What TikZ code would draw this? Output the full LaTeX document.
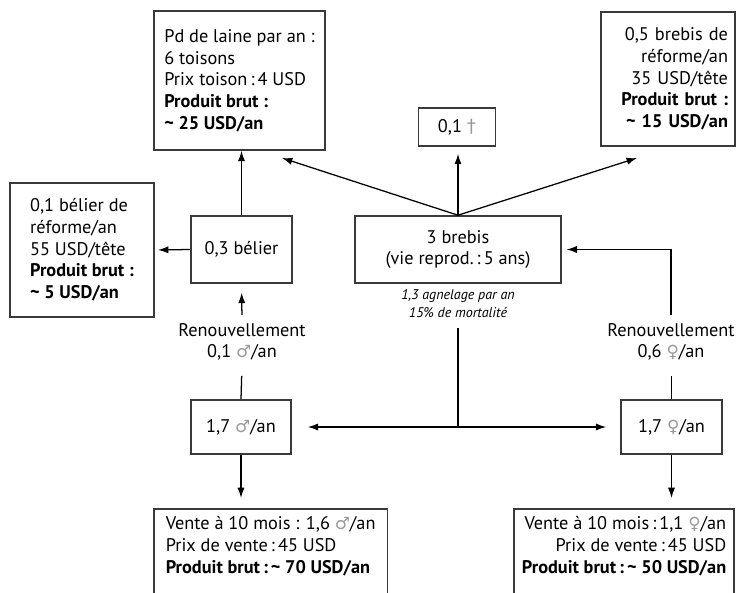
\documentclass[tikz,border=0pt]{standalone}
\usepackage{fontspec}
\setmainfont{PT Sans}
\newfontfamily\symfont{DejaVu Sans}
\usepackage{xcolor}
\usepackage{tikz}
\usetikzlibrary{arrows.meta}
\definecolor{oedge}{HTML}{3A3A3A}
\definecolor{osym}{HTML}{999999}
\newcommand{\ofont}{\fontsize{13}{15.4}\selectfont}
\newcommand{\onote}{\fontsize{10}{12.8}\selectfont\itshape}
\newcommand{\sexm}{{\symfont\fontsize{12}{12}\selectfont\color{osym}♂}}
\newcommand{\sexf}{{\symfont\fontsize{12}{12}\selectfont\color{osym}♀}}
\newcommand{\croix}{{\symfont\color{osym}†}}
\tikzset{
  >={Latex[length=2.6mm,width=1.8mm]},
  ovbox/.style={draw=oedge, line width=1.1pt, font=\ofont, inner sep=0.2cm},
  ovlbl/.style={font=\ofont, align=center, inner sep=0.1cm},
  ovnote/.style={font=\onote, align=center, inner sep=0.05cm},
  ovarr/.style={->, line width=0.9pt},
  ovline/.style={line width=0.9pt},
}
\begin{document}
\begin{tikzpicture}[x=0.025cm,y=-0.025cm]
  \path[use as bounding box, clip] (0,0) rectangle (738,593);

  % produits du haut
  \node[ovbox, minimum width=4.275cm, minimum height=3.475cm, align=left] (laine) at (239.5,80.5)
    {Pd de laine par an :\\6 toisons\\Prix toison\,:\,4 USD\\\textbf{Produit brut :}\\\textbf{\textasciitilde\ 25 USD/an}};
  \node[ovbox, minimum width=1.925cm, minimum height=0.95cm] (mort) at (457,127) {0,1 \croix};
  \node[ovbox, minimum width=3.35cm, minimum height=3.35cm, text width=3cm, align=right, inner xsep=0.175cm] (breref) at (668,79)
    {0,5 brebis de\\réforme/an\\35 USD/tête\\\textbf{Produit brut :}\\\textbf{\textasciitilde\ 15 USD/an}};
  \node[ovbox, minimum width=3.6cm, minimum height=3.35cm, align=left] (belref) at (82,250)
    {0,1 bélier de\\réforme/an\\55 USD/tête\\\textbf{Produit brut :}\\\textbf{\textasciitilde\ 5 USD/an}};

  % troupeau
  \node[ovbox, minimum width=2.525cm, minimum height=1.675cm] (belier) at (241.5,249.5) {0,3 bélier};
  \node[ovbox, minimum width=5.15cm, minimum height=1.675cm, align=center] (brebis) at (458,249.5)
    {3 brebis\\(vie reprod.\,:\,5 ans)};
  \node[ovnote] (taux) at (458,304) {1,3 agnelage par an\\15\% de mortalité};

  % renouvellement et agneaux
  \node[ovlbl] (renm) at (242,342) {Renouvellement\\0,1 \sexm/an};
  \node[ovlbl] (renf) at (671,342) {Renouvellement\\0,6 \sexf/an};
  \node[ovbox, minimum width=2.5cm, minimum height=1.35cm] (agm) at (241,427) {1,7 \sexm/an};
  \node[ovbox, minimum width=2.525cm, minimum height=1.35cm] (agf) at (671.5,427) {1,7 \sexf/an};

  % ventes (boites coupees en bas)
  \node[ovbox, anchor=north west, minimum width=5.325cm, align=left, text depth=3cm, inner xsep=0.3cm] (ventem) at (153,508)
    {Vente à 10 mois : 1,6 \sexm/an\\Prix de vente\,:\,45 USD\\\textbf{Produit brut\,:\,\textasciitilde\ 70 USD/an}};
  \node[ovbox, anchor=north east, minimum width=4.55cm, align=right, text depth=3cm, inner xsep=0.2cm] (ventef) at (735,508)
    {Vente à 10 mois\,:\,1,1 \sexf/an\\Prix de vente\,:\,45 USD\\\textbf{Produit brut\,:\,\textasciitilde\ 50 USD/an}};

  \coordinate (vlaine) at (282,158);
  \coordinate (vbreref) at (637,158);
  \coordinate (fourche) at (brebis |- agm);

  % fleches
  \draw[ovarr] (belier.north) -- (belier.north |- laine.south);
  \draw[ovarr, shorten >=0.08cm] (belier.west) -- (belref.east);
  \draw[ovarr] (brebis.north) -- (vlaine);
  \draw[ovarr] (brebis.north) -- (vbreref);
  \draw[ovarr, shorten >=0.175cm] (brebis.north) -- (brebis.north |- mort.south);
  \draw[ovarr, shorten <=0.1cm, shorten >=0.225cm] (renm.north) -- (belier.south);
  \draw[ovline, shorten >=0.275cm] (agm.north) -- (renm.south);
  \draw[ovarr, shorten <=0.1cm, shorten >=0.12cm] (renf.north) |- (brebis.east);
  \draw[ovline, shorten >=0.275cm] (agf.north) -- (agf.north |- renf.south);
  \draw[ovline, shorten <=0.2cm] (taux.south) -- (fourche);
  \draw[ovarr, shorten >=0.4cm] (fourche) -- (agm);
  \draw[ovarr, shorten >=0.35cm] (fourche) -- (agf);
  \draw[ovarr, shorten >=0.25cm] (agm.south) -- (agm.south |- ventem.north);
  \draw[ovarr, shorten >=0.25cm] (agf.south) -- (agf.south |- ventef.north);
\end{tikzpicture}
\end{document}
